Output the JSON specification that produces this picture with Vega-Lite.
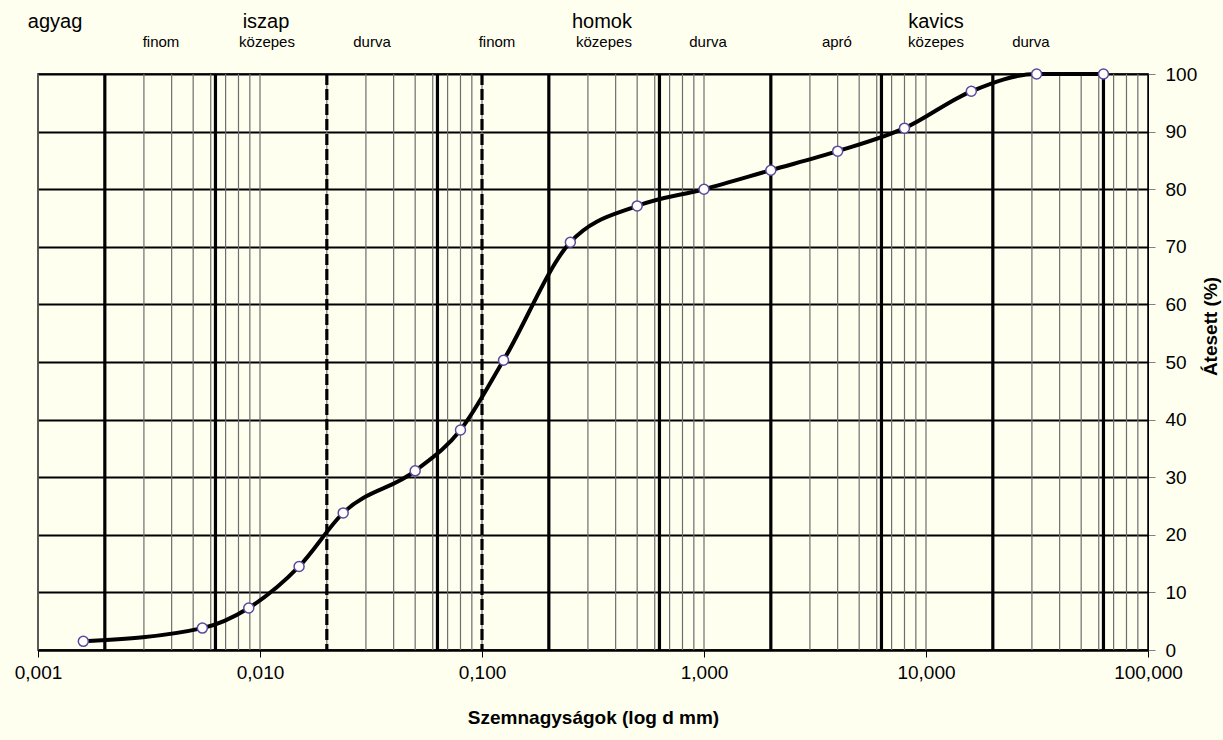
{
  "$schema": "https://vega.github.io/schema/vega-lite/v6.json",
  "width": 1110,
  "height": 576,
  "autosize": {"type": "none"},
  "padding": {"left": 38, "top": 74, "right": 75, "bottom": 90},
  "background": "#FFFFF0",
  "config": {"font": "Liberation Sans", "view": {"stroke": "#000000", "strokeWidth": 1.5}},
  "datasets": {
    "points": [
      {"d": 0.0016, "p": 1.5}, {"d": 0.0055, "p": 3.8}, {"d": 0.0089, "p": 7.3}, {"d": 0.015, "p": 14.5},
      {"d": 0.0237, "p": 23.8}, {"d": 0.05, "p": 31.1}, {"d": 0.08, "p": 38.2}, {"d": 0.125, "p": 50.3},
      {"d": 0.25, "p": 70.8}, {"d": 0.5, "p": 77.1}, {"d": 1, "p": 80.0}, {"d": 2, "p": 83.3},
      {"d": 4, "p": 86.6}, {"d": 8, "p": 90.6}, {"d": 16, "p": 97.0}, {"d": 31.5, "p": 100}, {"d": 63, "p": 100}
    ],
    "minor": [
      {"v": 0.001}, {"v": 0.002}, {"v": 0.003}, {"v": 0.004}, {"v": 0.005}, {"v": 0.006}, {"v": 0.007}, {"v": 0.008}, {"v": 0.009},
      {"v": 0.01}, {"v": 0.02}, {"v": 0.03}, {"v": 0.04}, {"v": 0.05}, {"v": 0.06}, {"v": 0.07}, {"v": 0.08}, {"v": 0.09},
      {"v": 0.1}, {"v": 0.2}, {"v": 0.3}, {"v": 0.4}, {"v": 0.5}, {"v": 0.6}, {"v": 0.7}, {"v": 0.8}, {"v": 0.9},
      {"v": 1}, {"v": 2}, {"v": 3}, {"v": 4}, {"v": 5}, {"v": 6}, {"v": 7}, {"v": 8}, {"v": 9},
      {"v": 10}, {"v": 20}, {"v": 30}, {"v": 40}, {"v": 50}, {"v": 60}, {"v": 70}, {"v": 80}, {"v": 90}
    ],
    "major": [
      {"v": 0.002}, {"v": 0.0063}, {"v": 0.063}, {"v": 0.2}, {"v": 0.63}, {"v": 2}, {"v": 6.3}, {"v": 20}, {"v": 63}
    ],
    "dashed": [{"v": 0.02}, {"v": 0.1}],
    "groups": [
      {"d": 0.001193, "y": 109.0, "t": "agyag"},
      {"d": 0.01064, "y": 109.0, "t": "iszap"},
      {"d": 0.3471, "y": 109.0, "t": "homok"},
      {"d": 11.09, "y": 109.0, "t": "kavics"}
    ],
    "subs": [
      {"d": 0.003581, "y": 105.6, "t": "finom"},
      {"d": 0.010753, "y": 105.6, "t": "közepes"},
      {"d": 0.03195, "y": 105.6, "t": "durva"},
      {"d": 0.1168, "y": 105.6, "t": "finom"},
      {"d": 0.3543, "y": 105.6, "t": "közepes"},
      {"d": 1.042, "y": 105.6, "t": "durva"},
      {"d": 3.97, "y": 105.6, "t": "apró"},
      {"d": 11.09, "y": 105.6, "t": "közepes"},
      {"d": 29.7, "y": 105.6, "t": "durva"}
    ]
  },
  "layer": [
    {
      "data": {"name": "points"},
      "mark": {"type": "point", "opacity": 0},
      "encoding": {
        "x": {
          "field": "d", "type": "quantitative",
          "scale": {"type": "log", "domain": [0.001, 100], "nice": false},
          "axis": {
            "values": [0.001, 0.01, 0.1, 1, 10, 100],
            "labelExpr": "replace(format(datum.value, '.3f'), '.', ',')",
            "grid": false, "tickColor": "#000000", "tickSize": 7, "tickWidth": 1,
            "domainColor": "#000000", "domainWidth": 2,
            "labelFontSize": 19, "labelColor": "#000000", "labelPadding": 6,
            "labelFlush": false, "labelOverlap": false,
            "title": "Szemnagyságok (log d mm)", "titleFontSize": 19, "titleFontWeight": "bold",
            "titleColor": "#000000", "titlePadding": 26
          }
        },
        "y": {
          "field": "p", "type": "quantitative",
          "scale": {"domain": [0, 100], "nice": false},
          "axis": {
            "orient": "right", "values": [0, 10, 20, 30, 40, 50, 60, 70, 80, 90, 100],
            "grid": true, "gridColor": "#000000", "gridWidth": 2, "gridOpacity": 1,
            "tickColor": "#808080", "tickSize": 7, "domain": true, "domainColor": "#000000",
            "labelFontSize": 19, "labelColor": "#000000", "labelPadding": 10,
            "title": "Átesett (%)", "titleFontSize": 19, "titleFontWeight": "bold", "titleColor": "#000000",
            "titleAngle": 270, "titleX": 62, "titleY": 252, "titleAlign": "center", "titleBaseline": "middle"
          }
        }
      }
    },
    {
      "data": {"name": "minor"},
      "mark": {"type": "rule", "color": "#6e6e6e", "strokeWidth": 1.2},
      "encoding": {
        "x": {"field": "v", "type": "quantitative", "scale": {"type": "log", "domain": [0.001, 100], "nice": false}}
      }
    },
    {
      "data": {"name": "major"},
      "mark": {"type": "rule", "color": "#000000", "strokeWidth": 3.2},
      "encoding": {
        "x": {"field": "v", "type": "quantitative", "scale": {"type": "log", "domain": [0.001, 100], "nice": false}}
      }
    },
    {
      "data": {"name": "dashed"},
      "mark": {"type": "rule", "color": "#000000", "strokeWidth": 3.2, "strokeDash": [11, 4]},
      "encoding": {
        "x": {"field": "v", "type": "quantitative", "scale": {"type": "log", "domain": [0.001, 100], "nice": false}}
      }
    },
    {
      "data": {"name": "points"},
      "mark": {"type": "line", "interpolate": "monotone", "color": "#000000", "strokeWidth": 4},
      "encoding": {
        "x": {"field": "d", "type": "quantitative", "scale": {"type": "log", "domain": [0.001, 100], "nice": false}},
        "y": {"field": "p", "type": "quantitative", "scale": {"domain": [0, 100], "nice": false}}
      }
    },
    {
      "data": {"name": "points"},
      "mark": {"type": "point", "shape": "circle", "filled": true, "fill": "#ffffff", "stroke": "#5a4a9e", "strokeWidth": 1.5, "size": 100, "opacity": 1},
      "encoding": {
        "x": {"field": "d", "type": "quantitative", "scale": {"type": "log", "domain": [0.001, 100], "nice": false}},
        "y": {"field": "p", "type": "quantitative", "scale": {"domain": [0, 100], "nice": false}}
      }
    },
    {
      "data": {"name": "groups"},
      "mark": {"type": "text", "fontSize": 20, "color": "#000000", "align": "center", "baseline": "middle"},
      "encoding": {
        "x": {"field": "d", "type": "quantitative", "scale": {"type": "log", "domain": [0.001, 100], "nice": false}},
        "y": {"field": "y", "type": "quantitative", "scale": {"domain": [0, 100], "nice": false}},
        "text": {"field": "t"}
      }
    },
    {
      "data": {"name": "subs"},
      "mark": {"type": "text", "fontSize": 15, "color": "#000000", "align": "center", "baseline": "middle"},
      "encoding": {
        "x": {"field": "d", "type": "quantitative", "scale": {"type": "log", "domain": [0.001, 100], "nice": false}},
        "y": {"field": "y", "type": "quantitative", "scale": {"domain": [0, 100], "nice": false}},
        "text": {"field": "t"}
      }
    }
  ]
}
